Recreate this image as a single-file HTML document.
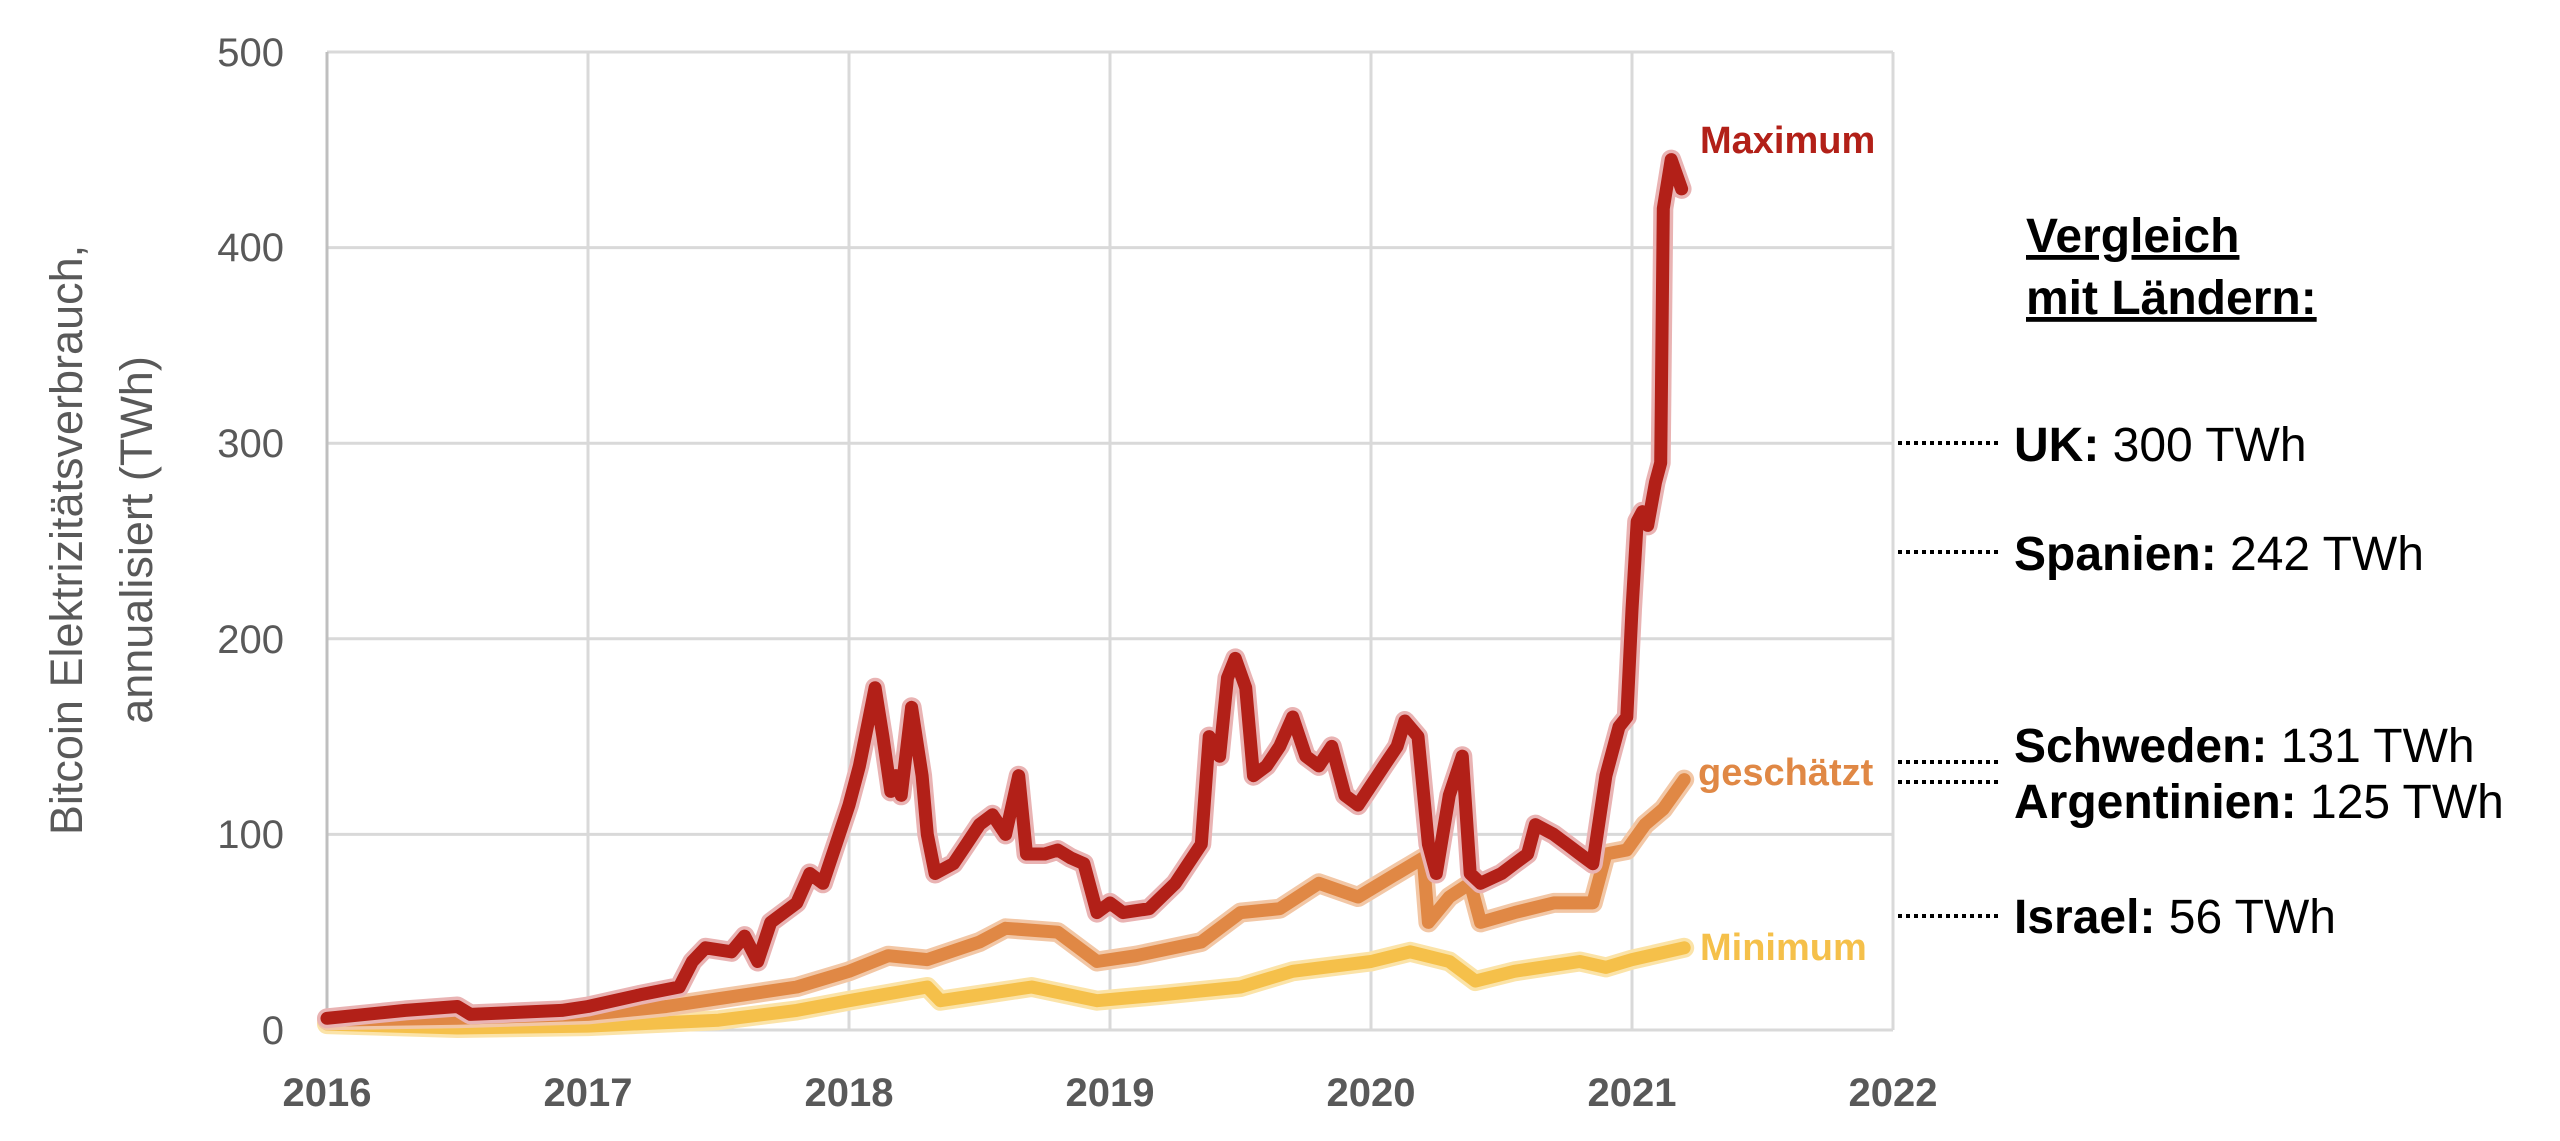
<!DOCTYPE html>
<html><head><meta charset="utf-8"><style>
html,body{margin:0;padding:0;background:#fff;}
svg{display:block;}
</style></head><body>
<svg id="s" width="2560" height="1141" viewBox="0 0 2560 1141" xmlns="http://www.w3.org/2000/svg" font-family="Liberation Sans, sans-serif">
<g id="grid" stroke="#d9d9d9" stroke-width="3"></g>
<g id="series"></g>
<g font-size="40" fill="#595959" text-anchor="end">
<text x="284" y="66">500</text>
<text x="284" y="261">400</text>
<text x="284" y="457">300</text>
<text x="284" y="653">200</text>
<text x="284" y="848">100</text>
<text x="284" y="1044">0</text>
</g>
<g font-size="40" fill="#595959" font-weight="bold" text-anchor="middle">
<text x="327" y="1106">2016</text>
<text x="588" y="1106">2017</text>
<text x="849" y="1106">2018</text>
<text x="1110" y="1106">2019</text>
<text x="1371" y="1106">2020</text>
<text x="1632" y="1106">2021</text>
<text x="1893" y="1106">2022</text>
</g>
<g font-size="45" fill="#595959" text-anchor="middle">
<text transform="translate(82,540) rotate(-90)">Bitcoin Elektrizitätsverbrauch,</text>
<text transform="translate(152,540) rotate(-90)">annualisiert (TWh)</text>
</g>
<g font-size="38" font-weight="bold">
<text x="1700" y="153" fill="#b22018">Maximum</text>
<text x="1698" y="785" fill="#e08845">geschätzt</text>
<text x="1700" y="960" fill="#f5c04a">Minimum</text>
</g>
<g stroke="#000" stroke-width="4" stroke-dasharray="4 4">
<line x1="1898" y1="443" x2="2002" y2="443"/>
<line x1="1898" y1="552" x2="2002" y2="552"/>
<line x1="1898" y1="762" x2="2002" y2="762"/>
<line x1="1898" y1="782" x2="2002" y2="782"/>
<line x1="1898" y1="916" x2="2002" y2="916"/>
</g>
<g font-size="48" fill="#000">
<text x="2026" y="252" font-weight="bold" text-decoration="underline">Vergleich</text>
<text x="2026" y="314" font-weight="bold" text-decoration="underline">mit Ländern:</text>
<text x="2014" y="461"><tspan font-weight="bold">UK:</tspan> 300 TWh</text>
<text x="2014" y="570"><tspan font-weight="bold">Spanien:</tspan> 242 TWh</text>
<text x="2014" y="762"><tspan font-weight="bold">Schweden:</tspan> 131 TWh</text>
<text x="2014" y="818"><tspan font-weight="bold">Argentinien:</tspan> 125 TWh</text>
<text x="2014" y="933"><tspan font-weight="bold">Israel:</tspan> 56 TWh</text>
</g>
</svg>
<script>
var X0=327,YW=261,Y0=1030,YU=1.956;
function px(t){return X0+(t-2016)*YW;}
function py(v){return Y0-v*YU;}
var g=document.getElementById('grid'),h='';
for(var i=0;i<=6;i++){var x=px(2016+i);h+='<line x1="'+x+'" y1="52" x2="'+x+'" y2="1030"/>';}
for(var j=0;j<=5;j++){var y=py(j*100);h+='<line x1="327" y1="'+y+'" x2="1893" y2="'+y+'"/>';}
h+='<line x1="327" y1="52" x2="327" y2="1030" stroke="#bfbfbf"/>';
g.innerHTML=h;
var mx=[[2016,6],[2016.3,10],[2016.5,12],[2016.55,8],[2016.9,10],[2017,12],[2017.2,18],[2017.35,22],[2017.4,35],[2017.45,42],[2017.55,40],[2017.6,48],[2017.65,35],[2017.7,55],[2017.8,65],[2017.85,80],[2017.9,75],[2017.95,95],[2018,115],[2018.04,135],[2018.07,155],[2018.1,175],[2018.13,150],[2018.16,122],[2018.18,130],[2018.2,120],[2018.24,165],[2018.28,130],[2018.3,100],[2018.33,80],[2018.4,85],[2018.45,95],[2018.5,105],[2018.55,110],[2018.6,100],[2018.65,130],[2018.68,90],[2018.75,90],[2018.8,92],[2018.85,88],[2018.9,85],[2018.95,60],[2019,65],[2019.05,60],[2019.15,62],[2019.25,75],[2019.3,85],[2019.35,95],[2019.38,150],[2019.42,140],[2019.45,180],[2019.48,190],[2019.52,175],[2019.55,130],[2019.6,135],[2019.65,145],[2019.7,160],[2019.75,140],[2019.8,135],[2019.85,145],[2019.9,120],[2019.95,115],[2020,125],[2020.05,135],[2020.1,145],[2020.13,158],[2020.18,150],[2020.22,95],[2020.25,80],[2020.3,120],[2020.35,140],[2020.38,80],[2020.42,75],[2020.5,80],[2020.55,85],[2020.6,90],[2020.63,105],[2020.7,100],[2020.75,95],[2020.8,90],[2020.85,85],[2020.9,130],[2020.95,155],[2020.98,160],[2021,215],[2021.02,260],[2021.04,265],[2021.06,258],[2021.09,280],[2021.11,290],[2021.12,420],[2021.15,445],[2021.19,430]];
var es=[[2016,5],[2016.5,6],[2017,8],[2017.3,12],[2017.5,16],[2017.8,22],[2018,30],[2018.15,38],[2018.3,36],[2018.5,45],[2018.6,52],[2018.8,50],[2018.95,35],[2019.1,38],[2019.35,45],[2019.5,60],[2019.65,62],[2019.8,75],[2019.95,68],[2020.1,80],[2020.2,88],[2020.22,55],[2020.3,68],[2020.38,75],[2020.42,55],[2020.55,60],[2020.7,65],[2020.85,65],[2020.9,90],[2020.98,92],[2021.05,105],[2021.12,113],[2021.2,128]];
var mn=[[2016,3],[2016.5,1],[2017,2],[2017.5,5],[2017.8,10],[2018,15],[2018.3,22],[2018.35,15],[2018.5,18],[2018.7,22],[2018.95,15],[2019.2,18],[2019.5,22],[2019.7,30],[2020,35],[2020.15,40],[2020.3,35],[2020.4,25],[2020.55,30],[2020.8,35],[2020.9,32],[2021,36],[2021.2,42]];
function path(d){return d.map(function(p,i){return (i?'L':'M')+px(p[0]).toFixed(1)+' '+py(p[1]).toFixed(1);}).join(' ');}
var s='';
[[mn,'#f5c04a','#fbe3a8'],[es,'#e08845','#f2c7a6'],[mx,'#b22018','#e9b3b3']].forEach(function(a){
 s+='<path d="'+path(a[0])+'" fill="none" stroke="'+a[2]+'" stroke-width="20" stroke-linejoin="round" stroke-linecap="round"/>';
 s+='<path d="'+path(a[0])+'" fill="none" stroke="'+a[1]+'" stroke-width="13" stroke-linejoin="round" stroke-linecap="round"/>';
});
document.getElementById('series').innerHTML=s;
</script>
</body></html>
